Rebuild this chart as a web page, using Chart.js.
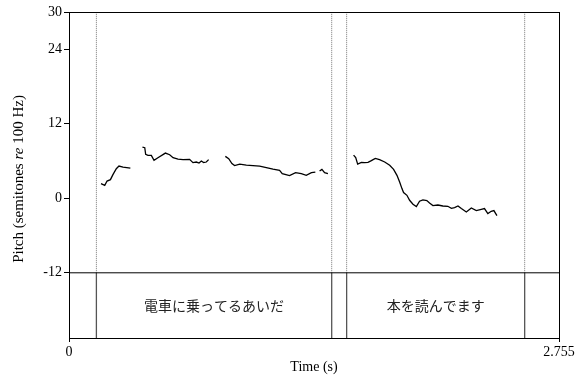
<!DOCTYPE html>
<html>
<head>
<meta charset="utf-8">
<script src="https://cdn.jsdelivr.net/npm/chart.js@4"></script>
<style>
  html, body { margin: 0; padding: 0; background: #fff; }
  canvas { display: block; }
</style>
</head>
<body>
<canvas id="pitchChart" width="583" height="378"></canvas>
<script>
// time axis (s) and pitch axis (semitones re 100 Hz)
const timeRange = [0, 2.755];
const pitchRange = [-22.5, 30];
const pitchTicks = [30, 24, 12, 0, -12];
const timeTicks = [0, 2.755];
const tierTop = -12;

// pitch contour, null = unvoiced gap
const pitchTime = [
  0.180, 0.201, 0.214, 0.233, 0.247, 0.266, 0.281, 0.304, 0.345, 0.36,
  0.413, 0.426, 0.431, 0.444, 0.463, 0.478, 0.500, 0.542, 0.566, 0.585,
  0.613, 0.641, 0.678, 0.697, 0.716, 0.731, 0.744, 0.757, 0.772, 0.785, 0.80,
  0.879, 0.898, 0.916, 0.931, 0.960, 0.997, 1.072, 1.147, 1.184, 1.199,
  1.240, 1.274, 1.306, 1.334, 1.363, 1.385, 1.397,
  1.409, 1.422, 1.437, 1.456, 1.50,
  1.600, 1.612, 1.623, 1.644, 1.662, 1.681, 1.700, 1.722, 1.746, 1.775,
  1.803, 1.825, 1.844, 1.859, 1.872, 1.881, 1.900, 1.915, 1.934, 1.953,
  1.971, 1.990, 2.012, 2.027, 2.046, 2.074, 2.102, 2.130, 2.150, 2.168,
  2.187, 2.206, 2.234, 2.262, 2.290, 2.318, 2.336, 2.355, 2.374, 2.389, 2.406
];
const pitchSemitones = [
  2.36, 2.09, 2.78, 3.0, 3.81, 4.77, 5.19, 5.03, 4.87, null,
  8.25, 8.15, 7.07, 6.91, 6.91, 6.11, 6.54, 7.28, 7.02, 6.54,
  6.32, 6.22, 6.27, 5.74, 5.84, 5.68, 6.0, 5.74, 5.84, 6.22, null,
  6.75, 6.38, 5.58, 5.26, 5.51, 5.35, 5.19, 4.71, 4.5, 3.97,
  3.65, 4.13, 3.97, 3.7, 4.13, 4.23, null,
  4.39, 4.66, 4.13, 3.97, null,
  6.96, 6.54, 5.51, 5.79, 5.74, 5.79, 6.06, 6.43, 6.22, 5.84,
  5.31, 4.66, 3.7, 2.62, 1.56, 0.92, 0.48, -0.32, -0.96, -1.33,
  -0.48, -0.27, -0.37, -0.76, -1.17, -1.08, -1.24, -1.29, -1.61, -1.5,
  -1.24, -1.66, -2.2, -1.56, -1.98, -1.77, -1.66, -2.46, -2.09, -1.98, -2.78
];

// text grid tier
const boundaries = [0.154, 1.477, 1.561, 2.562];
const intervalLabels = ["", "電車に乗ってるあいだ", "", "本を読んでます", ""];

const serif = "'Liberation Serif', 'Times New Roman', serif";

const contour = pitchTime.map((t, i) => ({ x: t, y: pitchSemitones[i] }));

const datasets = [{
  data: contour,
  borderColor: "#000",
  borderWidth: 1.3,
  pointRadius: 0,
  showLine: true,
  spanGaps: false,
  tension: 0
}];

// tier top line
datasets.push({
  data: [{ x: timeRange[0], y: tierTop }, { x: timeRange[1], y: tierTop }],
  borderColor: "#000", borderWidth: 1, pointRadius: 0, showLine: true
});

// boundaries: dotted over the pitch area, solid in the tier
boundaries.forEach(b => {
  datasets.push({
    data: [{ x: b, y: tierTop }, { x: b, y: pitchRange[1] }],
    borderColor: "#777", borderWidth: 1, borderDash: [1, 1],
    pointRadius: 0, showLine: true
  });
  datasets.push({
    data: [{ x: b, y: pitchRange[0] }, { x: b, y: tierTop }],
    borderColor: "#555", borderWidth: 1.3, pointRadius: 0, showLine: true
  });
});

// frame, interval texts and axis titles
const decorations = {
  id: "decorations",
  afterDraw(chart) {
    const { ctx, chartArea: a, scales } = chart;
    ctx.save();
    ctx.strokeStyle = "#000";
    ctx.lineWidth = 1;
    ctx.strokeRect(a.left + 0.5, a.top + 0.5, a.right - a.left, a.bottom - a.top);

    const edges = [timeRange[0], ...boundaries, timeRange[1]];
    const yMid = scales.y.getPixelForValue((tierTop + pitchRange[0]) / 2);
    ctx.fillStyle = "#222";
    ctx.font = "14px 'Noto Sans CJK JP'";
    ctx.textAlign = "center";
    ctx.textBaseline = "middle";
    intervalLabels.forEach((txt, i) => {
      if (!txt) return;
      const xMid = scales.x.getPixelForValue((edges[i] + edges[i + 1]) / 2);
      ctx.fillText(txt, xMid, yMid);
    });

    ctx.fillStyle = "#000";
    ctx.font = "14px " + serif;
    ctx.fillText("Time (s)", (a.left + a.right) / 2, 367);

    // y title with italic "re"
    const parts = [
      ["Pitch (semitones ", "normal"],
      ["re", "italic"],
      [" 100 Hz)", "normal"]
    ];
    const fontFor = s => s + " 15px " + serif;
    let total = 0;
    parts.forEach(([t, s]) => { ctx.font = fontFor(s); total += ctx.measureText(t).width; });
    ctx.translate(19, (a.top + a.bottom) / 2 + 4);
    ctx.rotate(-Math.PI / 2);
    ctx.textAlign = "left";
    let x = -total / 2;
    parts.forEach(([t, s]) => {
      ctx.font = fontFor(s);
      ctx.fillText(t, x, 0);
      x += ctx.measureText(t).width;
    });
    ctx.restore();
  }
};

new Chart(document.getElementById("pitchChart"), {
  type: "scatter",
  data: { datasets },
  options: {
    responsive: false,
    animation: false,
    layout: { padding: { top: 12, right: 24, left: 0, bottom: 0 } },
    plugins: { legend: { display: false }, tooltip: { enabled: false } },
    scales: {
      x: {
        type: "linear",
        min: timeRange[0],
        max: timeRange[1],
        afterBuildTicks: s => { s.ticks = timeTicks.map(v => ({ value: v })); },
        afterFit: s => { s.height = 40; },
        grid: { drawOnChartArea: false, drawTicks: true, tickLength: 4, color: "#000" },
        border: { color: "#000", width: 1 },
        ticks: {
          autoSkip: false, maxRotation: 0, padding: 2, color: "#000",
          font: { family: serif, size: 14 },
          callback: v => String(v)
        }
      },
      y: {
        type: "linear",
        min: pitchRange[0],
        max: pitchRange[1],
        afterBuildTicks: s => { s.ticks = pitchTicks.map(v => ({ value: v })); },
        afterFit: s => { s.width = 69; },
        grid: { drawOnChartArea: false, drawTicks: true, tickLength: 5, color: "#000" },
        border: { color: "#000", width: 1 },
        ticks: {
          autoSkip: false, padding: 2, color: "#000",
          font: { family: serif, size: 14 },
          callback: v => String(v)
        }
      }
    }
  },
  plugins: [decorations]
});
</script>
</body>
</html>
